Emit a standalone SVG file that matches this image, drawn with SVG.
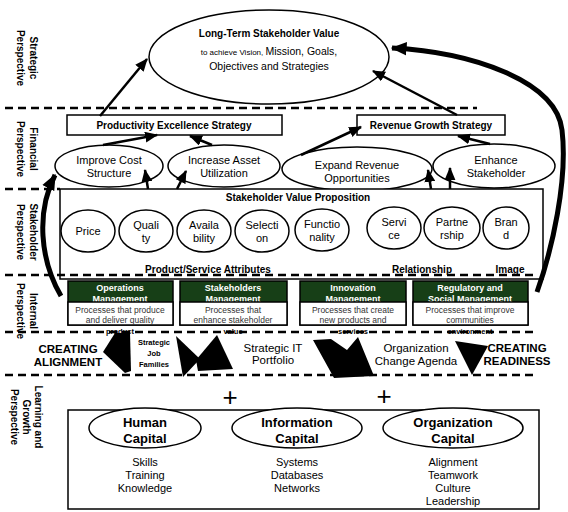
<svg xmlns="http://www.w3.org/2000/svg" width="568" height="512" viewBox="0 0 568 512">
<defs>
<marker id="ah" viewBox="0 0 12 10" refX="11" refY="5" markerWidth="13" markerHeight="11" orient="auto" markerUnits="userSpaceOnUse"><path d="M0,0 L12,5 L0,10 z" fill="#000"/></marker>
<marker id="ahb" viewBox="0 0 12 10" refX="11" refY="5" markerWidth="16" markerHeight="14" orient="auto" markerUnits="userSpaceOnUse"><path d="M0,0 L12,5 L0,10 z" fill="#000"/></marker>
<style>
text{font-family:"Liberation Sans",Arial,sans-serif;fill:#000}
.dash{stroke:#000;stroke-width:2.5;stroke-dasharray:8,5;fill:none}
.sh{fill:#fff;stroke:#000;stroke-width:1.5}
.lab{font-size:10px;font-weight:bold;text-anchor:middle}
.t11{font-size:11px;text-anchor:middle}
.b10{font-size:10px;font-weight:bold;text-anchor:middle}
.hd{font-size:9px;font-weight:bold;fill:#fff;text-anchor:middle}
.bd{font-size:8.5px;fill:#333;text-anchor:middle}
.sm{font-size:7.5px;font-weight:bold;text-anchor:middle}
.con{stroke:#000;stroke-width:2.5;fill:none}
.big{stroke:#000;stroke-width:5;fill:none}
.cap{font-size:13px;font-weight:bold;text-anchor:middle}
.lst{font-size:11px;text-anchor:middle}
.blk{fill:#000}
</style>
</defs>

<!-- perspective labels -->
<g id="labels">
<g transform="translate(27,58) rotate(90)"><text class="lab" y="-3">Strategic</text><text class="lab" y="10">Perspective</text></g>
<g transform="translate(27,149) rotate(90)"><text class="lab" y="-3">Financial</text><text class="lab" y="10">Perspective</text></g>
<g transform="translate(27,232) rotate(90)"><text class="lab" y="-3">Stakeholder</text><text class="lab" y="10">Perspective</text></g>
<g transform="translate(27,311) rotate(90)"><text class="lab" y="-3">Internal</text><text class="lab" y="10">Perspective</text></g>
<g transform="translate(27,417) rotate(90)"><text class="lab" y="-8">Learning and</text><text class="lab" y="4">Growth</text><text class="lab" y="16">Perspective</text></g>
</g>

<!-- top ellipse -->
<g id="ltsv">
<ellipse class="sh" cx="269" cy="57" rx="120" ry="47"/>
<text class="b10" x="269" y="37">Long-Term Stakeholder Value</text>
<text x="269" y="55" text-anchor="middle"><tspan font-size="8">to achieve Vision, </tspan><tspan font-size="10.5">Mission, Goals,</tspan></text>
<text x="269" y="70" text-anchor="middle" font-size="10.5">Objectives and Strategies</text>
</g>

<!-- Financial -->
<g id="pes"><rect class="sh" x="67" y="115" width="215" height="20"/><text class="b10" x="174" y="129">Productivity Excellence Strategy</text></g>
<g id="rgs"><rect class="sh" x="357" y="115" width="148" height="20"/><text class="b10" x="431" y="129">Revenue Growth Strategy</text></g>
<g id="ics"><ellipse class="sh" cx="109" cy="166" rx="54" ry="21"/><text class="t11" x="109" y="164">Improve Cost</text><text class="t11" x="109" y="177">Structure</text></g>
<g id="iau"><ellipse class="sh" cx="224" cy="166" rx="56" ry="21"/><text class="t11" x="224" y="164">Increase Asset</text><text class="t11" x="224" y="177">Utilization</text></g>
<g id="ero"><ellipse class="sh" cx="357" cy="169" rx="75" ry="22"/><text class="t11" x="357" y="169">Expand Revenue</text><text class="t11" x="357" y="182">Opportunities</text></g>
<g id="es"><ellipse class="sh" cx="494" cy="166" rx="61" ry="22"/><text class="t11" x="496" y="164">Enhance</text><text class="t11" x="496" y="177">Stakeholder</text></g>

<!-- Stakeholder value proposition -->
<g id="svp">
<rect class="sh" x="60" y="189" width="483" height="90"/>
<text class="b10" x="298" y="201" font-size="10.5">Stakeholder Value Proposition</text>
</g>
<g id="price"><ellipse class="sh" cx="88" cy="231" rx="27" ry="21"/><text class="t11" x="88" y="235">Price</text></g>
<g id="quality"><ellipse class="sh" cx="146" cy="231" rx="27" ry="21"/><text class="t11" x="146" y="229">Quali</text><text class="t11" x="146" y="242">ty</text></g>
<g id="availability"><ellipse class="sh" cx="204" cy="231" rx="27" ry="21"/><text class="t11" x="204" y="229">Availa</text><text class="t11" x="204" y="242">bility</text></g>
<g id="selection"><ellipse class="sh" cx="262" cy="231" rx="27" ry="21"/><text class="t11" x="262" y="229">Selecti</text><text class="t11" x="262" y="242">on</text></g>
<g id="functionality"><ellipse class="sh" cx="322" cy="230" rx="27" ry="21"/><text class="t11" x="322" y="228">Functio</text><text class="t11" x="322" y="241">nality</text></g>
<g id="service"><ellipse class="sh" cx="394" cy="228" rx="27" ry="21"/><text class="t11" x="394" y="226">Servi</text><text class="t11" x="394" y="239">ce</text></g>
<g id="partnership"><ellipse class="sh" cx="452" cy="228" rx="28" ry="21"/><text class="t11" x="452" y="226">Partne</text><text class="t11" x="452" y="239">rship</text></g>
<g id="brand"><ellipse class="sh" cx="506" cy="228" rx="23" ry="21"/><text class="t11" x="506" y="226">Bran</text><text class="t11" x="506" y="239">d</text></g>
<g id="attrs">
<text class="b10" x="208" y="273" font-size="10.5">Product/Service Attributes</text>
<text class="b10" x="422" y="273" font-size="10.5">Relationship</text>
<text class="b10" x="510" y="273" font-size="10.5">Image</text>
</g>

<!-- Internal processes -->
<g id="ops">
<rect x="68" y="281" width="105" height="44" fill="#173f17" stroke="#000" stroke-width="1.5"/>
<text class="hd" x="120" y="291">Operations</text><text class="hd" x="120" y="302">Management</text>
<rect class="sh" x="68" y="302" width="105" height="23"/>
<text class="bd" x="120" y="313">Processes that produce</text><text class="bd" x="120" y="323">and deliver quality</text>
<text class="sm" x="120" y="334">product</text>
</g>
<g id="stk">
<rect x="180" y="281" width="107" height="44" fill="#173f17" stroke="#000" stroke-width="1.5"/>
<text class="hd" x="233" y="291">Stakeholders</text><text class="hd" x="233" y="302">Management</text>
<rect class="sh" x="180" y="302" width="107" height="23"/>
<text class="bd" x="233" y="313">Processes that</text><text class="bd" x="233" y="323">enhance stakeholder</text>
<text class="sm" x="233" y="334">value</text>
</g>
<g id="inn">
<rect x="300" y="281" width="106" height="44" fill="#173f17" stroke="#000" stroke-width="1.5"/>
<text class="hd" x="353" y="291">Innovation</text><text class="hd" x="353" y="302">Management</text>
<rect class="sh" x="300" y="302" width="106" height="23"/>
<text class="bd" x="353" y="313">Processes that create</text><text class="bd" x="353" y="323">new  products and</text>
<text class="sm" x="353" y="334">services</text>
</g>
<g id="reg">
<rect x="413" y="281" width="115" height="44" fill="#173f17" stroke="#000" stroke-width="1.5"/>
<text class="hd" x="470" y="291">Regulatory and</text><text class="hd" x="470" y="302">Social Management</text>
<rect class="sh" x="413" y="302" width="115" height="23"/>
<text class="bd" x="470" y="313">Processes that improve</text><text class="bd" x="470" y="323">communities</text>
<text class="sm" x="470" y="334">environment</text>
</g>

<!-- dashed separators -->
<g id="separators">
<line class="dash" x1="5" y1="108" x2="477" y2="108"/>
<line class="dash" x1="5" y1="189" x2="60" y2="189"/>
<line class="dash" x1="5" y1="275" x2="537" y2="275"/>
<line class="dash" x1="5" y1="332" x2="535" y2="332"/>
<line class="dash" x1="5" y1="375" x2="535" y2="375"/>
</g>

<!-- enablers row -->
<g id="align"><text x="68" y="353" font-size="11.5" font-weight="bold" text-anchor="middle">CREATING</text><text x="68" y="366" font-size="11.5" font-weight="bold" text-anchor="middle">ALIGNMENT</text></g>
<g id="sjf"><text class="sm" font-size="8.5" x="154" y="345">Strategic</text><text class="sm" font-size="8.5" x="154" y="356">Job</text><text class="sm" font-size="8.5" x="154" y="367">Families</text></g>
<g id="sitp"><text x="273" y="352" font-size="11.5" text-anchor="middle">Strategic IT</text><text x="273" y="364" font-size="11.5" text-anchor="middle">Portfolio</text></g>
<g id="oca"><text x="416" y="352" font-size="11.5" text-anchor="middle">Organization</text><text x="416" y="365" font-size="11.5" text-anchor="middle">Change Agenda</text></g>
<g id="ready"><text x="517" y="352" font-size="11.5" font-weight="bold" text-anchor="middle">CREATING</text><text x="517" y="365" font-size="11.5" font-weight="bold" text-anchor="middle">READINESS</text></g>

<!-- Learning and growth -->
<g id="lg"><rect class="sh" x="68" y="410" width="471" height="99"/>
<text x="230" y="406" font-size="26" text-anchor="middle">+</text>
<text x="384" y="405" font-size="26" text-anchor="middle">+</text>
</g>
<g id="hc"><ellipse class="sh" cx="145" cy="428" rx="56" ry="20"/><text class="cap" x="145" y="427">Human</text><text class="cap" x="145" y="443">Capital</text>
<text class="lst" x="145" y="466">Skills</text><text class="lst" x="145" y="479">Training</text><text class="lst" x="145" y="492">Knowledge</text></g>
<g id="ic"><ellipse class="sh" cx="297" cy="428" rx="65" ry="20"/><text class="cap" x="297" y="427">Information</text><text class="cap" x="297" y="443">Capital</text>
<text class="lst" x="297" y="466">Systems</text><text class="lst" x="297" y="479">Databases</text><text class="lst" x="297" y="492">Networks</text></g>
<g id="oc"><ellipse class="sh" cx="453" cy="428" rx="70" ry="20"/><text class="cap" x="453" y="427">Organization</text><text class="cap" x="453" y="443">Capital</text>
<text class="lst" x="453" y="466">Alignment</text><text class="lst" x="453" y="479">Teamwork</text><text class="lst" x="453" y="492">Culture</text><text class="lst" x="453" y="505">Leadership</text></g>

<!-- connectors -->
<g id="connectors">
<line class="con" x1="100" y1="116" x2="147" y2="59" marker-end="url(#ah)"/>
<line class="con" x1="457" y1="115" x2="373" y2="71" marker-end="url(#ah)"/>
<line class="con" x1="103" y1="145" x2="157" y2="135" marker-end="url(#ah)"/>
<line class="con" x1="212" y1="145" x2="190" y2="136" marker-end="url(#ah)"/>
<line class="con" x1="301" y1="155" x2="361" y2="127" marker-end="url(#ah)"/>
<line class="con" x1="490" y1="144" x2="458" y2="136" marker-end="url(#ah)"/>
<line class="con" x1="148" y1="189" x2="145" y2="170" marker-end="url(#ah)"/>
<line class="con" x1="177" y1="189" x2="186" y2="171" marker-end="url(#ah)"/>
<line class="con" x1="431" y1="189" x2="428" y2="170" marker-end="url(#ah)"/>
<line class="con" x1="450" y1="189" x2="450" y2="168" marker-end="url(#ah)"/>
<path class="big" stroke-width="4.5" d="M61,296 C40,260 36,212 55,175" marker-end="url(#ahb)"/>
<path class="big" d="M537,292 C552,250 568,180 562,130 C556,80 470,52 392,48" marker-end="url(#ahb)"/>
<polygon class="blk" points="103,352 115,333 130,333 131,371 125,373"/>
<polygon class="blk" points="176,336 200,359 183,377"/>
<polygon class="blk" points="196,360 217,335 233,369 198,371"/>
<polygon class="blk" points="313,340 331,339 347,350 358,337 374,376 334,378"/>
<polygon class="blk" points="455,341 488,346 472,375"/>
</g>
</svg>
